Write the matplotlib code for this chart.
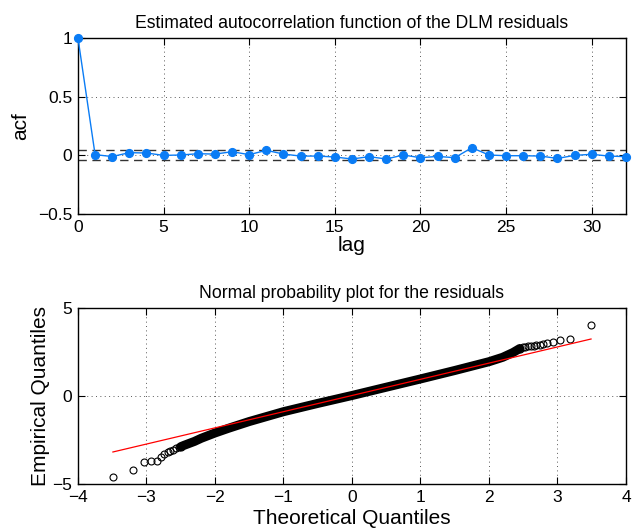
import numpy as np
import matplotlib
matplotlib.use("Agg")
import matplotlib.pyplot as plt

plt.rcParams["font.family"] = ["Liberation Sans", "DejaVu Sans"]

# === ACF of residuals ===
lags = list(range(33))
acf = [1.0, 0.006, -0.010, 0.023, 0.020, 0.000, 0.003, 0.014, 0.011, 0.031,
       0.006, 0.043, 0.011, -0.006, -0.006, -0.014, -0.031, -0.011, -0.031, 0.003,
       -0.020, -0.009, -0.020, 0.065, 0.003, -0.003, -0.003, -0.006, -0.026, 0.000,
       0.009, -0.006, -0.011]
conf_band = 0.043

# === normal probability plot ===
# individually visible points in the tails
tail_left_x = [-3.49, -3.19, -3.03, -2.93, -2.85, -2.79, -2.74, -2.69, -2.65, -2.61, -2.57, -2.53, -2.50]
tail_left_y = [-4.60, -4.19, -3.75, -3.69, -3.67, -3.49, -3.31, -3.18, -3.10, -3.04, -2.98, -2.92, -2.88]
tail_right_x = [2.45, 2.50, 2.53, 2.57, 2.61, 2.65, 2.69, 2.74, 2.79, 2.85, 2.93, 3.03, 3.19, 3.49]
tail_right_y = [2.70, 2.76, 2.79, 2.82, 2.84, 2.87, 2.89, 2.92, 2.96, 3.00, 3.07, 3.16, 3.22, 4.03]
# centre of the dense band of overlapping points
band_x = [-2.50, -2.45, -2.30, -2.20, -2.00, -1.80, -1.50, -1.00, -0.50, 0.00, 0.50, 1.00, 1.50, 2.00, 2.20, 2.35, 2.45]
band_y = [-2.88, -2.80, -2.58, -2.40, -2.10, -1.83, -1.45, -0.89, -0.42, 0.03, 0.50, 0.97, 1.45, 1.95, 2.20, 2.47, 2.70]
# reference line
ref_x = [-3.49, 3.49]
ref_y = [-3.18, 3.24]

ACF_BLUE = "#0a7cf5"

fig = plt.figure(figsize=(6.37, 5.32), dpi=100)
ax1 = fig.add_axes([0.1224, 0.5977, 0.8603, 0.3308])
ax2 = fig.add_axes([0.1224, 0.0902, 0.8603, 0.3308])


def matlab_style(ax):
    ax.grid(True, linestyle=(0, (1, 3.5)), color="0.35", linewidth=0.7)
    ax.set_axisbelow(True)
    ax.tick_params(direction="in", length=5, width=0.8, top=True, right=True,
                   labelsize=12.5, pad=4)
    for s in ax.spines.values():
        s.set_linewidth(1.0)


# --- top: acf ---
ax1.plot(lags, acf, "-o", color=ACF_BLUE, lw=1.0, ms=5.6, mec=ACF_BLUE, mfc=ACF_BLUE,
         zorder=3, clip_on=False)
ax1.axhline(conf_band, color="0.2", ls=(0, (6, 4)), lw=1.0, zorder=2)
ax1.axhline(-conf_band, color="0.2", ls=(0, (6, 4)), lw=1.0, zorder=2)
ax1.set_xlim(0, 32)
ax1.set_ylim(-0.5, 1)
ax1.set_xticks([0, 5, 10, 15, 20, 25, 30])
ax1.set_yticks([-0.5, 0, 0.5, 1])
ax1.set_yticklabels(["\u22120.5", "0", "0.5", "1"])
matlab_style(ax1)
ax1.set_title("Estimated autocorrelation function of the DLM residuals", fontsize=12.7, pad=7)
ax1.set_xlabel("lag", fontsize=15, labelpad=1)
ax1.set_ylabel("acf", fontsize=15, labelpad=6)

# --- bottom: normal probability plot ---
ax2.plot(band_x, band_y, "-", color="black", lw=6.5, solid_capstyle="round",
         solid_joinstyle="round", zorder=2)
ax2.plot(tail_left_x, tail_left_y, "o", ms=5.0, mfc="none", mec="black", mew=0.8, zorder=2)
ax2.plot(tail_right_x, tail_right_y, "o", ms=5.0, mfc="none", mec="black", mew=0.8, zorder=2)
ax2.plot(ref_x, ref_y, "-", color="red", lw=0.9, zorder=3)
ax2.set_xlim(-4, 4)
ax2.set_ylim(-5, 5)
ax2.set_xticks(range(-4, 5))
ax2.set_xticklabels(["\u22124", "\u22123", "\u22122", "\u22121", "0", "1", "2", "3", "4"])
ax2.set_yticks([-5, 0, 5])
ax2.set_yticklabels(["\u22125", "0", "5"])
matlab_style(ax2)
ax2.set_title("Normal probability plot for the residuals", fontsize=12.7, pad=7)
ax2.set_xlabel("Theoretical Quantiles", fontsize=15, labelpad=3)
ax2.set_ylabel("Empirical Quantiles", fontsize=15, labelpad=2)

fig.savefig("out.png", dpi=100)
